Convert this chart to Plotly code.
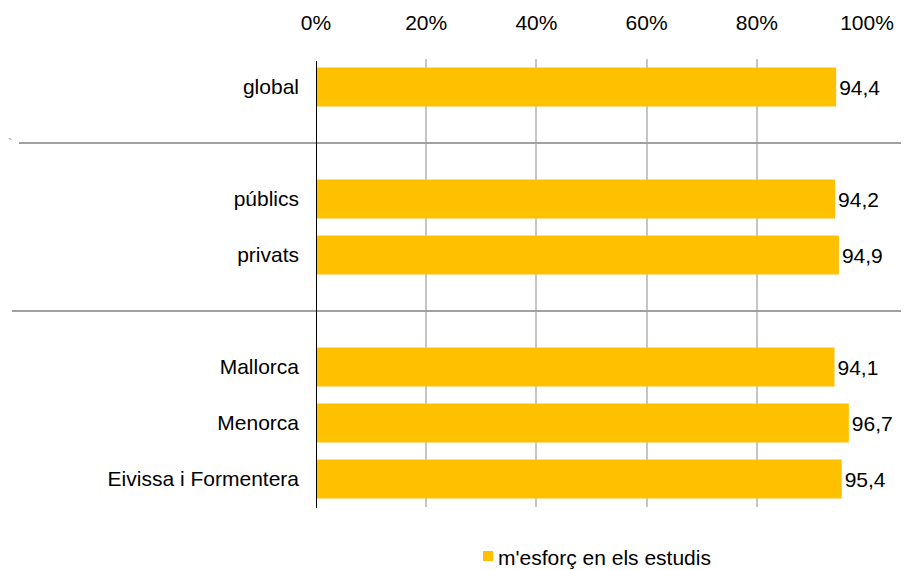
import plotly.graph_objects as go

categories = ["global", "", "públics", "privats", "", "Mallorca", "Menorca", "Eivissa i Formentera"]
values = [94.4, None, 94.2, 94.9, None, 94.1, 96.7, 95.4]
series_name = "m'esforç en els estudis"
x_ticks = [0, 20, 40, 60, 80, 100]
x_ticktext = ["0%", "20%", "40%", "60%", "80%", "100%"]
separator_rows = [1, 4]

FONT = "Liberation Sans, Arial, sans-serif"
FS = 21
OFF = 8  # page body margin
W, H = 909 - OFF, 570 - OFF
L, T = 316 - OFF, 59 - OFF
PW, PH = 551, 448
R = W - L - PW
B = H - T - PH


def px(xv):
    return (xv - OFF - L) / PW


def py(yv):
    return 1 - (yv - OFF - T) / PH


ypos = list(range(len(categories)))
texts = [("%.1f" % v).replace(".", ",") if v is not None else "" for v in values]

fig = go.Figure()
fig.add_trace(go.Bar(
    x=values, y=ypos, orientation="h", name=series_name,
    marker=dict(color="#FFC000", line=dict(width=0)),
    text=texts, textposition="outside", cliponaxis=False,
    textfont=dict(family=FONT, size=FS, color="#000000"),
    showlegend=False,
))

shapes = []
sep_left = [19, 12]
for r, lx in zip(separator_rows, sep_left):
    shapes.append(dict(type="line", xref="paper", yref="y",
                       x0=px(lx), x1=px(915), y0=r, y1=r,
                       line=dict(color="#a0a0a0", width=2), layer="above"))
shapes.append(dict(type="line", xref="x", yref="paper", x0=0, x1=0, y0=py(508), y1=py(61),
                   line=dict(color="#000000", width=2), layer="above"))
# legend swatch
shapes.append(dict(type="rect", xref="paper", yref="paper",
                   x0=px(483), x1=px(493), y0=py(561), y1=py(551),
                   fillcolor="#FFC000", line=dict(width=0)))

fig.update_layout(
    width=W, height=H,
    margin=dict(l=L, r=R, t=T, b=B, autoexpand=False),
    paper_bgcolor="white", plot_bgcolor="white",
    font=dict(family=FONT, size=FS, color="#000000"),
    bargap=0.3,
    xaxis=dict(side="top", range=[0, 100], tickvals=x_ticks, ticktext=x_ticktext,
               showgrid=True, gridcolor="#c6c6c6", gridwidth=2, zeroline=False,
               showline=False, ticks="", ticklabelstandoff=24,
               tickfont=dict(family=FONT, size=FS)),
    yaxis=dict(range=[len(categories) - 0.5, -0.5], tickvals=ypos, ticktext=categories,
               showgrid=False, zeroline=False, showline=False, ticks="",
               ticklabelstandoff=16, tickfont=dict(family=FONT, size=FS)),
    shapes=shapes,
    showlegend=False,
    annotations=[
        dict(text="`", xref="paper", yref="y", x=px(6), y=1, xanchor="left",
             showarrow=False, font=dict(size=13, color="#909090")),
        dict(text=series_name, xref="paper", yref="paper", x=px(496), y=py(557),
             xanchor="left", yanchor="middle", showarrow=False,
             font=dict(family=FONT, size=FS, color="#000000")),
    ],
)

fig.write_html("out.html")
